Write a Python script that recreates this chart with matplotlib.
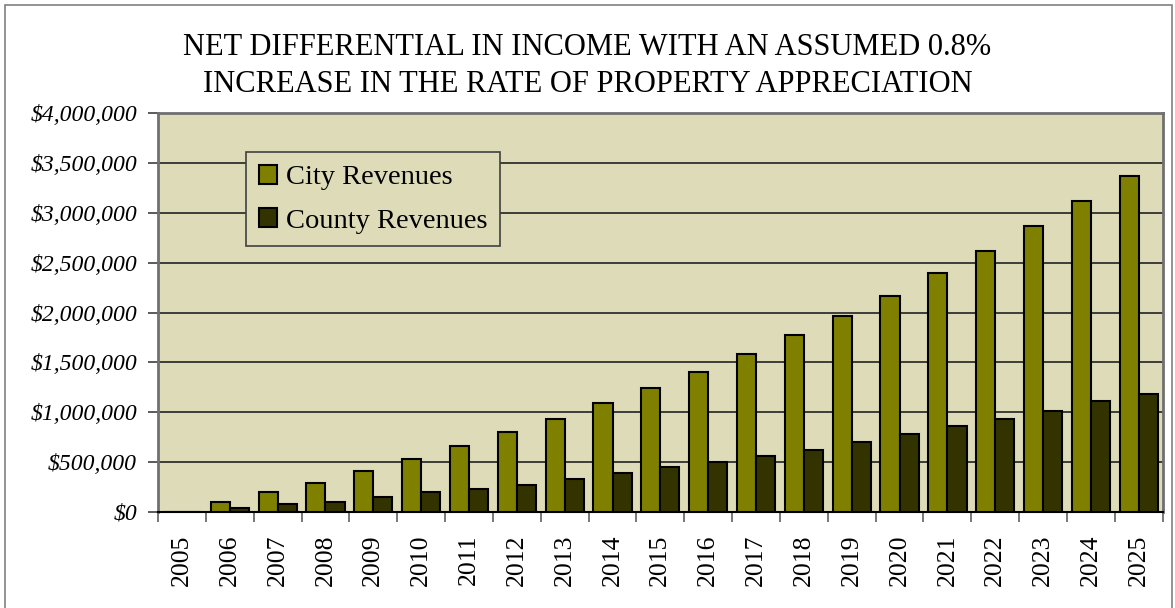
import numpy as np
import matplotlib
matplotlib.use("Agg")
import matplotlib.pyplot as plt
from matplotlib.patches import Rectangle
from matplotlib.ticker import FuncFormatter, FixedLocator

years = ["2005", "2006", "2007", "2008", "2009", "2010", "2011", "2012", "2013", "2014", "2015",
         "2016", "2017", "2018", "2019", "2020", "2021", "2022", "2023", "2024", "2025"]
city = [0, 100000, 197000, 294000, 408000, 528000, 665000, 799000, 935000, 1093000, 1245000,
        1403000, 1580000, 1773000, 1970000, 2163000, 2397000, 2613000, 2863000, 3117000, 3373000]
county = [0, 40000, 77000, 100000, 153000, 197000, 234000, 271000, 331000, 388000, 448000,
          504000, 564000, 624000, 700000, 780000, 857000, 933000, 1013000, 1113000, 1187000]

plt.rcParams['font.family'] = ['Liberation Serif', 'DejaVu Serif']

fig = plt.figure(figsize=(11.75, 6.08), dpi=100)
ax = fig.add_axes([0.1345, 0.158, 0.855, 0.656])

# outer border of the chart
fig.patches.append(Rectangle((5/1175, -0.05), 1167/1175, 0.05 + 603/608, transform=fig.transFigure,
                             fill=False, edgecolor="#808080", linewidth=1.2))

x = np.arange(len(years))
w = 0.4
ax.bar(x - w/2, city, w, color="#808000", edgecolor="black", linewidth=1.5,
       label="City Revenues", zorder=3)
ax.bar(x + w/2, county, w, color="#333300", edgecolor="black", linewidth=1.5,
       label="County Revenues", zorder=3)

ax.set_facecolor("#DEDCB8")
ax.set_xlim(-0.5, len(years) - 0.5)
ax.set_ylim(0, 4000000)
ax.set_yticks(np.arange(0, 4000001, 500000))
ax.yaxis.set_major_formatter(FuncFormatter(lambda v, p: "${:,.0f}".format(v)))
ax.grid(axis="y", color="#222222", linewidth=1.2, zorder=0)
ax.set_axisbelow(True)

ax.set_xticks(x)
ax.set_xticklabels(years, rotation=90, fontsize=18.5)
ax.tick_params(axis="x", length=0, pad=16)
ax.xaxis.set_minor_locator(FixedLocator(np.arange(-0.5, len(years), 1)))
ax.tick_params(axis="x", which="minor", length=7, width=1.2, color="#606060")
ax.tick_params(axis="y", length=7, width=1.2, color="#404040", labelsize=17, pad=8)
for lbl in ax.get_yticklabels():
    lbl.set_fontstyle("italic")

for s in ["left", "top", "right"]:
    ax.spines[s].set_color("#707070")
    ax.spines[s].set_linewidth(2)
ax.spines["bottom"].set_color("black")
ax.spines["bottom"].set_linewidth(1.5)

leg = ax.legend(loc="upper left", bbox_to_anchor=(0.0876, 0.902), fontsize=20.5, fancybox=False,
                facecolor="#DEDCB8", edgecolor="#404040", framealpha=1, handlelength=0.65,
                handleheight=0.65, handletextpad=0.3, borderpad=0.45, labelspacing=0.62,
                borderaxespad=0)
leg.get_frame().set_linewidth(1.2)

fig.text(0.5, 0.891, "NET DIFFERENTIAL IN INCOME WITH AN ASSUMED 0.8%\nINCREASE IN THE RATE OF PROPERTY APPRECIATION",
         ha="center", va="center", fontsize=22, linespacing=1.35)

plt.savefig("out.png", dpi=100)
